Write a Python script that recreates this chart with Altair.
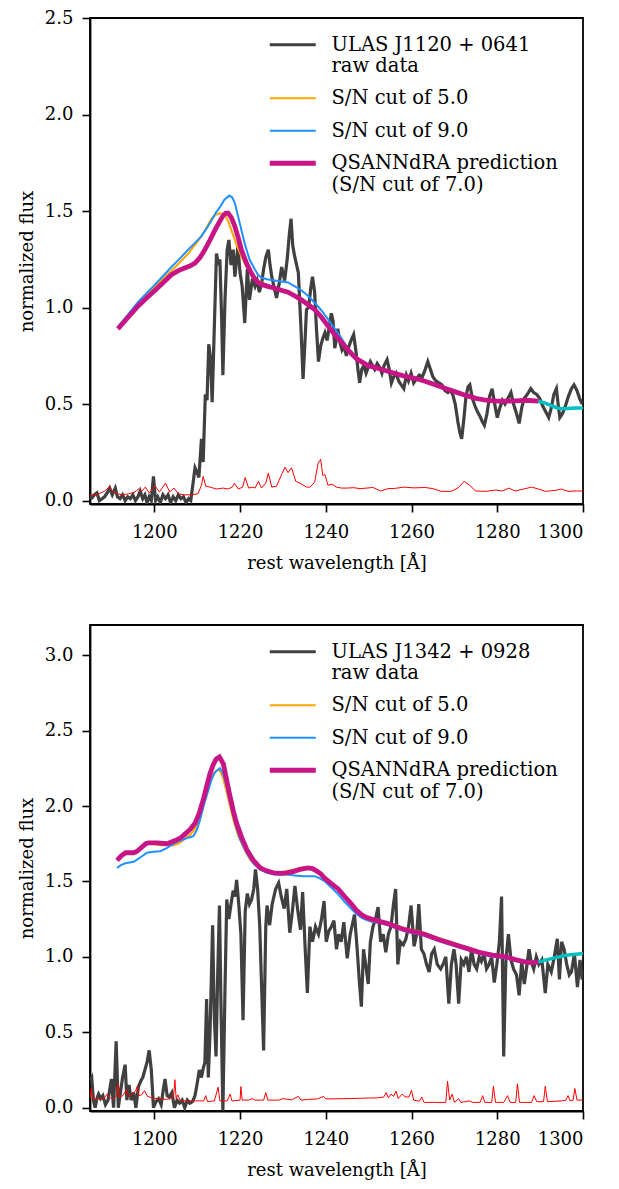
import altair as alt
import pandas as pd

# ---------------- top panel: ULAS J1120+0641 ----------------
t_raw_wl = [1185.0, 1185.5, 1186.0, 1186.6, 1187.2, 1187.8, 1188.4, 1189.0, 1189.6, 1190.2, 1190.9, 1191.4,
            1192.0, 1192.6, 1193.2, 1193.8, 1194.4, 1195.0, 1195.6, 1196.2, 1196.7, 1197.3, 1197.8, 1198.3,
            1198.8, 1199.3, 1199.8, 1200.3, 1200.8, 1201.4, 1202.0, 1202.6, 1203.2, 1203.8, 1204.4, 1205.0,
            1205.6, 1206.2, 1206.8, 1207.4, 1208.0, 1208.5, 1209.1, 1209.5, 1209.9, 1210.4, 1211.0, 1211.4,
            1211.9, 1212.3, 1212.7, 1213.1, 1213.5, 1214.0, 1214.5, 1215.0, 1215.3, 1215.7, 1216.0, 1216.5,
            1217.0, 1217.4, 1217.9, 1218.4, 1218.8, 1219.2, 1219.5, 1220.0, 1220.5, 1221.1, 1221.7, 1222.2,
            1222.9, 1223.5, 1224.0, 1224.5, 1225.0, 1225.5, 1226.0, 1226.6, 1227.0, 1227.4, 1228.0, 1228.5,
            1229.1, 1229.7, 1230.1, 1230.4, 1231.0, 1231.5, 1231.9, 1232.3, 1232.7, 1233.2, 1233.6, 1234.2,
            1234.7, 1235.1, 1235.5, 1236.0, 1236.5, 1236.9, 1237.4, 1237.8, 1238.3, 1238.8, 1239.3, 1239.8,
            1240.3, 1240.8, 1241.3, 1241.7, 1242.1, 1242.5, 1242.8, 1243.3, 1243.8, 1244.3, 1244.8, 1245.4,
            1245.9, 1246.5, 1247.0, 1247.5, 1247.9, 1248.4, 1248.9, 1249.4, 1249.9, 1250.4, 1250.9, 1251.4,
            1252.0, 1252.6, 1253.1, 1253.6, 1254.3, 1254.8, 1255.3, 1255.8, 1256.4, 1257.0, 1257.6, 1258.2,
            1258.8, 1259.3, 1259.9, 1260.5, 1261.1, 1261.8, 1262.5, 1263.2, 1263.8, 1264.4, 1265.0, 1265.7,
            1266.4, 1267.1, 1267.8, 1268.5, 1269.1, 1269.6, 1270.2, 1270.8, 1271.3, 1271.7, 1272.2, 1272.7,
            1273.2, 1273.6, 1274.2, 1274.8, 1275.4, 1275.9, 1276.5, 1277.0, 1277.6, 1278.2, 1278.8, 1279.4,
            1280.0, 1280.6, 1281.2, 1281.8, 1282.5, 1283.2, 1283.8, 1284.5, 1285.1, 1285.7, 1286.3, 1287.0,
            1287.8, 1288.5, 1289.2, 1289.9, 1290.6, 1291.3, 1292.0, 1292.6, 1293.2, 1293.8, 1294.2, 1294.6,
            1295.2, 1295.9, 1296.6, 1297.3, 1297.9, 1298.6, 1299.2, 1299.8]
t_raw_fl = [0.02, 0.015, 0.03, 0.04, 0.0, 0.01, 0.02, 0.04, 0.065, 0.03, 0.065, 0.02,
            0.01, 0.03, 0.0, 0.02, 0.01, 0.03, 0.0, 0.02, 0.05, 0.01, 0.03, -0.01,
            0.02, 0.0, 0.125, 0.0, 0.02, -0.01, 0.03, 0.01, 0.03, -0.01, 0.02, 0.0,
            0.03, 0.01, 0.02, -0.01, 0.01, 0.0, 0.1, 0.17, 0.15, 0.12, 0.32, 0.2,
            0.55, 0.52, 0.81, 0.74, 0.51, 0.9, 1.28, 1.22, 1.25, 0.95, 0.65, 1.05,
            1.3, 1.35, 1.22, 1.3, 1.16, 1.25, 1.32, 1.18, 1.11, 0.92, 1.2, 1.04,
            1.15, 1.11, 1.14, 1.08, 1.12, 1.2, 1.26, 1.30, 1.22, 1.16, 1.1, 1.05,
            1.12, 1.21, 1.17, 1.14, 1.25, 1.38, 1.46, 1.32, 1.27, 1.22, 1.18, 0.9,
            0.63, 0.8, 0.99, 1.0, 1.1, 1.16, 1.08, 0.9, 0.72, 0.8, 0.84, 0.87,
            0.83, 0.9, 0.97, 0.93, 0.79, 0.84, 0.89, 0.82, 0.78, 0.8, 0.75, 0.8,
            0.83, 0.86, 0.78, 0.68, 0.61, 0.68, 0.7, 0.66, 0.69, 0.72, 0.7, 0.68,
            0.71, 0.69, 0.66, 0.7, 0.73, 0.68, 0.61, 0.64, 0.66, 0.62, 0.6, 0.58,
            0.65, 0.62, 0.66, 0.61, 0.63, 0.65, 0.64, 0.68, 0.72, 0.68, 0.64, 0.62,
            0.61, 0.6, 0.57, 0.56, 0.57, 0.55, 0.5, 0.41, 0.35, 0.32, 0.42, 0.54,
            0.59, 0.6, 0.53, 0.49, 0.46, 0.44, 0.41, 0.39, 0.45, 0.54, 0.58, 0.5,
            0.43, 0.48, 0.52, 0.5, 0.53, 0.56, 0.5, 0.45, 0.4, 0.48, 0.53, 0.55,
            0.58, 0.56, 0.55, 0.53, 0.49, 0.46, 0.43, 0.48, 0.55, 0.58, 0.5, 0.43,
            0.45, 0.49, 0.54, 0.58, 0.60, 0.57, 0.53, 0.50]

t_sn5_wl = [1191.5, 1193.9, 1196.3, 1198.2, 1200.2, 1202.1, 1204.0, 1206.0, 1207.9, 1209.5, 1211.0, 1212.2,
            1213.3, 1214.3, 1215.3, 1216.4, 1217.2, 1218.0, 1219.1, 1220.3, 1221.5, 1222.6, 1223.4, 1224.2,
            1225.0, 1226.5, 1228.1, 1229.6, 1231.2, 1232.8, 1234.3, 1235.9, 1237.4, 1239.0, 1240.5, 1242.1,
            1243.7, 1244.8, 1246.0, 1247.2, 1248.3, 1249.8, 1251.4, 1253.7, 1256.0, 1258.3, 1260.7, 1263.0,
            1265.5, 1268.1, 1270.4, 1272.7, 1275.0, 1277.4, 1279.7, 1282.0, 1284.4, 1286.7, 1289.6]
t_sn5_fl = [0.895, 0.96, 1.03, 1.07, 1.11, 1.15, 1.19, 1.235, 1.28, 1.325, 1.37, 1.415,
            1.46, 1.48, 1.49, 1.48, 1.45, 1.40, 1.33, 1.265, 1.21, 1.18, 1.155, 1.14,
            1.13, 1.115, 1.10, 1.09, 1.08, 1.062, 1.042, 1.017, 0.992, 0.952, 0.907, 0.862,
            0.822, 0.792, 0.762, 0.737, 0.722, 0.702, 0.692, 0.677, 0.662, 0.647, 0.636, 0.622,
            0.602, 0.582, 0.564, 0.547, 0.532, 0.522, 0.517, 0.517, 0.519, 0.521, 0.516]

t_sn9_wl = [1191.5, 1193.9, 1196.3, 1198.2, 1200.2, 1202.1, 1204.0, 1206.0, 1207.9, 1209.5, 1211.0, 1212.2,
            1213.3, 1214.3, 1215.3, 1216.4, 1217.5, 1218.2, 1218.8, 1219.9, 1221.1, 1222.2, 1223.4, 1224.2,
            1225.0, 1226.5, 1228.1, 1229.6, 1231.2, 1232.8, 1234.3, 1235.9, 1237.4, 1239.0, 1240.5, 1242.1,
            1243.7, 1244.8, 1246.0, 1247.2, 1248.3, 1249.8, 1251.4, 1253.7, 1256.0, 1258.3, 1260.7, 1263.0,
            1265.5, 1268.1, 1270.4, 1272.7, 1275.0, 1277.4, 1279.7, 1282.0, 1284.4, 1286.7, 1289.6]
t_sn9_fl = [0.90, 0.965, 1.03, 1.075, 1.12, 1.165, 1.21, 1.255, 1.30, 1.335, 1.37, 1.41,
            1.45, 1.49, 1.52, 1.56, 1.58, 1.57, 1.54, 1.44, 1.33, 1.25, 1.20, 1.17,
            1.155, 1.145, 1.14, 1.135, 1.13, 1.11, 1.09, 1.06, 1.025, 0.985, 0.94, 0.89,
            0.84, 0.80, 0.77, 0.74, 0.72, 0.701, 0.691, 0.676, 0.661, 0.646, 0.635, 0.621,
            0.601, 0.581, 0.563, 0.546, 0.531, 0.521, 0.516, 0.516, 0.518, 0.52, 0.515]

t_qs_wl = [1191.5, 1193.9, 1196.3, 1198.2, 1200.2, 1202.1, 1204.0, 1205.5, 1207.1, 1208.3, 1209.5, 1210.7,
           1211.8, 1213.0, 1214.1, 1215.1, 1216.0, 1216.6, 1217.2, 1218.0, 1218.8, 1219.6, 1220.3, 1221.5,
           1222.6, 1223.4, 1224.2, 1225.0, 1226.5, 1228.1, 1229.6, 1231.2, 1232.8, 1234.3, 1235.9, 1237.4,
           1239.0, 1240.5, 1242.1, 1243.7, 1244.8, 1246.0, 1247.2, 1248.3, 1249.8, 1251.4, 1253.7, 1256.0,
           1258.3, 1260.7, 1263.0, 1265.5, 1268.1, 1270.4, 1272.7, 1275.0, 1277.4, 1279.7, 1282.0, 1284.4,
           1286.7, 1289.6]
t_qs_fl = [0.89, 0.95, 1.01, 1.05, 1.09, 1.13, 1.17, 1.19, 1.205, 1.215, 1.23, 1.26,
           1.30, 1.35, 1.40, 1.44, 1.475, 1.488, 1.49, 1.465, 1.42, 1.36, 1.30, 1.23,
           1.18, 1.15, 1.13, 1.12, 1.11, 1.10, 1.09, 1.08, 1.06, 1.04, 1.015, 0.99,
           0.95, 0.905, 0.86, 0.82, 0.79, 0.76, 0.735, 0.72, 0.70, 0.69, 0.675, 0.66,
           0.645, 0.634, 0.62, 0.60, 0.58, 0.562, 0.545, 0.53, 0.52, 0.515, 0.515, 0.517,
           0.52, 0.515]

t_red_wl = [1289.6, 1291.2, 1292.9, 1294.0, 1295.2, 1296.5, 1298.0, 1300.0]
t_red_fl = [0.515, 0.505, 0.49, 0.48, 0.476, 0.477, 0.48, 0.48]

t_err_wl = [1185.0, 1186.0, 1187.0, 1188.3, 1189.0, 1189.5, 1190.2, 1190.9, 1192.4, 1194.0, 1195.5, 1196.3,
            1197.0, 1197.9, 1198.8, 1200.2, 1201.2, 1202.6, 1203.6, 1204.6, 1205.6, 1207.0, 1208.1, 1210.2,
            1211.0, 1211.4, 1212.0, 1213.0, 1214.5, 1216.0, 1217.2, 1218.2, 1218.7, 1219.6, 1220.6, 1221.2,
            1222.0, 1223.0, 1223.5, 1224.3, 1225.0, 1226.0, 1226.6, 1227.4, 1228.5, 1229.8, 1230.5, 1231.2,
            1232.0, 1233.0, 1234.0, 1235.5, 1236.3, 1237.4, 1238.2, 1238.8, 1239.3, 1239.8, 1240.5, 1241.5,
            1242.5, 1243.6, 1245.0, 1246.5, 1248.0, 1249.5, 1251.0, 1252.8, 1254.5, 1256.0, 1258.3, 1260.5,
            1263.2, 1265.0, 1266.9, 1269.2, 1270.8, 1272.3, 1273.5, 1275.0, 1277.4, 1279.7, 1281.2, 1282.7,
            1284.2, 1286.1, 1288.0, 1289.6, 1291.2, 1293.5, 1295.0, 1296.5, 1298.5, 1300.0]
t_err_fl = [0.03, 0.03, 0.035, 0.048, 0.06, 0.073, 0.05, 0.04, 0.03, 0.035, 0.045, 0.06,
            0.045, 0.07, 0.04, 0.075, 0.045, 0.09, 0.045, 0.065, 0.035, 0.03, 0.03, 0.035,
            0.08, 0.125, 0.075, 0.07, 0.06, 0.065, 0.06, 0.07, 0.09, 0.06, 0.07, 0.12,
            0.065, 0.07, 0.065, 0.10, 0.065, 0.09, 0.142, 0.07, 0.075, 0.14, 0.173, 0.145,
            0.17, 0.1, 0.09, 0.07, 0.07, 0.095, 0.193, 0.214, 0.13, 0.135, 0.08, 0.085,
            0.07, 0.065, 0.065, 0.067, 0.062, 0.065, 0.068, 0.05, 0.062, 0.063, 0.07, 0.066,
            0.068, 0.062, 0.048, 0.048, 0.065, 0.10, 0.08, 0.05, 0.048, 0.055, 0.05, 0.065,
            0.05, 0.06, 0.07, 0.06, 0.048, 0.053, 0.06, 0.048, 0.05, 0.05]

# ---------------- bottom panel: ULAS J1342+0928 ----------------
b_raw_wl = [1185.0, 1185.4, 1185.8, 1186.2, 1186.6, 1187.0, 1187.5, 1188.0, 1188.6, 1189.2, 1189.6, 1190.0,
            1190.5, 1191.1, 1191.6, 1192.1, 1192.6, 1193.2, 1193.6, 1194.1, 1194.6, 1195.2, 1195.7, 1196.3,
            1196.9, 1197.3, 1197.8, 1198.3, 1198.8, 1199.3, 1199.8, 1200.4, 1201.0, 1201.6, 1202.1, 1202.5,
            1203.0, 1203.5, 1204.1, 1204.7, 1205.3, 1205.9, 1206.5, 1207.1, 1207.7, 1208.3, 1208.9, 1209.5,
            1210.0, 1210.5, 1211.0, 1211.4, 1211.8, 1212.2, 1212.6, 1213.0, 1213.6, 1214.0, 1214.4, 1214.8,
            1215.2, 1215.6, 1216.0, 1216.5, 1216.9, 1217.4, 1217.9, 1218.4, 1218.8, 1219.2, 1219.7, 1220.2,
            1220.7, 1221.2, 1221.7, 1222.2, 1222.7, 1223.2, 1223.6, 1224.1, 1224.6, 1225.0, 1225.5, 1226.0,
            1226.3, 1226.9, 1227.5, 1228.3, 1229.0, 1229.6, 1230.3, 1230.9, 1231.6, 1232.2, 1232.8, 1233.5,
            1234.1, 1234.6, 1235.2, 1235.7, 1236.3, 1236.9, 1237.6, 1238.3, 1239.0, 1239.6, 1240.1, 1240.7,
            1241.3, 1241.9, 1242.5, 1243.0, 1243.6, 1244.2, 1245.0, 1245.7, 1246.7, 1247.3, 1247.8, 1248.3,
            1248.8, 1249.3, 1249.9, 1250.4, 1251.0, 1251.6, 1252.2, 1252.8, 1253.4, 1254.0, 1254.6, 1255.2,
            1255.8, 1256.3, 1256.8, 1257.4, 1258.1, 1258.7, 1259.3, 1259.9, 1260.6, 1261.2, 1261.7, 1262.3,
            1262.9, 1263.5, 1264.1, 1264.7, 1265.3, 1266.0, 1266.8, 1267.5, 1268.0, 1268.7, 1269.3, 1269.9,
            1270.4, 1271.0, 1271.6, 1272.2, 1272.8, 1273.4, 1274.0, 1274.6, 1275.2, 1275.8, 1276.3, 1276.9,
            1277.5, 1278.1, 1278.7, 1279.3, 1279.9, 1280.5, 1281.0, 1281.5, 1282.0, 1282.6, 1283.2, 1283.8,
            1284.5, 1285.1, 1285.7, 1286.3, 1286.8, 1287.4, 1287.9, 1288.5, 1289.1, 1289.7, 1290.4, 1291.2,
            1291.8, 1292.6, 1293.3, 1294.0, 1294.5, 1295.0, 1295.6, 1296.2, 1296.8, 1297.3, 1298.0, 1298.7,
            1299.3, 1299.8]
b_raw_fl = [0.18, 0.2, 0.05, 0.0, 0.06, 0.09, 0.06, 0.08, 0.02, 0.05, 0.12, 0.19,
            0.0, 0.44, 0.0, 0.1, 0.2, 0.285, 0.05, 0.15, 0.05, 0.1, 0.0, 0.14,
            0.18, 0.2, 0.25, 0.3, 0.38, 0.25, 0.0, 0.04, 0.06, 0.02, 0.12, 0.19,
            0.08, 0.07, 0.1, 0.0, 0.05, 0.03, 0.05, 0.0, 0.05, 0.03, 0.04, 0.08,
            0.16, 0.25, 0.2, 0.26, 0.3, 0.72, 0.2, 0.5, 1.21, 0.6, 0.34, 0.9,
            1.34, 0.6, -0.02, 0.8, 1.38, 1.25, 1.35, 1.44, 1.40, 1.51, 1.35, 1.15,
            0.58, 1.3, 1.42, 1.35, 1.38, 1.45, 1.58, 1.45, 1.2, 0.83, 0.38, 1.2,
            1.34, 1.21, 1.35, 1.45, 1.49, 1.40, 1.32, 1.45, 1.16, 1.3, 1.47, 1.3,
            1.18, 1.43, 1.05, 0.76, 1.2, 1.1, 1.2, 1.15, 1.25, 1.37, 1.1, 1.17,
            1.2, 1.24, 1.05, 1.15, 1.10, 1.23, 0.99, 1.15, 1.28, 1.06, 0.85, 0.67,
            1.05, 0.95, 0.82, 1.1, 1.2, 1.25, 1.33, 1.1, 1.15, 1.03, 1.15, 1.2,
            1.35, 1.45, 0.95, 1.1, 1.08, 1.12, 1.2, 1.34, 1.07, 1.15, 1.35, 1.05,
            1.02, 0.95, 0.90, 1.02, 1.05, 0.95, 0.92, 0.96, 1.0, 0.69, 0.95, 1.05,
            0.95, 0.69, 0.98, 0.95, 1.0, 0.9, 1.05, 0.95, 0.92, 1.0, 0.97, 1.02,
            0.92, 0.95, 1.0, 0.83, 0.95, 1.1, 1.40, 0.34, 0.97, 1.15, 0.98, 0.92,
            0.88, 0.745, 0.97, 0.82, 0.92, 1.05, 0.97, 0.92, 1.0, 0.95, 0.98, 0.76,
            0.95, 0.9, 1.0, 1.12, 0.85, 1.1, 1.05, 0.95, 0.88, 0.9, 1.02, 0.8,
            0.98, 0.85]

b_sn5_wl = [1191.3, 1192.3, 1193.3, 1194.2, 1195.2, 1196.0, 1197.0, 1198.0, 1199.2, 1200.5, 1201.4, 1203.0,
            1204.5, 1205.5, 1206.4, 1207.4, 1208.4, 1209.3, 1210.2, 1211.0, 1211.9, 1212.8, 1213.8, 1214.5,
            1215.0, 1215.5, 1216.0, 1216.8, 1217.7, 1218.6, 1219.6, 1220.9, 1222.3, 1223.8, 1225.4, 1227.0,
            1228.6, 1230.2, 1231.8, 1233.4, 1235.0, 1236.5, 1237.8, 1238.8, 1239.8, 1241.3, 1242.9, 1244.4,
            1246.0, 1247.1, 1248.3, 1249.4, 1250.6, 1252.5, 1254.5, 1256.4, 1258.4, 1260.7, 1263.0, 1266.3,
            1269.6, 1272.7, 1275.8, 1278.9, 1282.0, 1284.4, 1286.7, 1288.2, 1289.6]
b_sn5_fl = [1.645, 1.675, 1.69, 1.69, 1.69, 1.705, 1.73, 1.75, 1.75, 1.745, 1.74, 1.74,
            1.74, 1.75, 1.765, 1.79, 1.81, 1.84, 1.90, 1.97, 2.05, 2.14, 2.215, 2.235,
            2.24, 2.225, 2.19, 2.10, 1.995, 1.89, 1.80, 1.72, 1.645, 1.60, 1.57, 1.56,
            1.56, 1.565, 1.575, 1.585, 1.595, 1.595, 1.58, 1.56, 1.53, 1.49, 1.455, 1.405,
            1.355, 1.315, 1.285, 1.268, 1.256, 1.242, 1.228, 1.21, 1.19, 1.175, 1.16, 1.125,
            1.095, 1.066, 1.038, 1.018, 1.003, 0.983, 0.967, 0.963, 0.965]

b_sn9_wl = [1191.3, 1192.3, 1193.3, 1194.2, 1195.2, 1196.8, 1198.3, 1199.8, 1201.4, 1202.9, 1204.5, 1206.0,
            1207.6, 1209.1, 1209.9, 1210.7, 1211.6, 1212.6, 1213.4, 1214.2, 1215.3, 1215.9, 1216.5, 1217.3,
            1218.1, 1219.0, 1220.0, 1221.5, 1223.1, 1224.6, 1226.2, 1228.1, 1230.9, 1232.8, 1234.7, 1237.4,
            1238.6, 1239.8, 1241.3, 1242.9, 1244.4, 1246.0, 1247.1, 1248.3, 1249.4, 1250.6, 1252.5, 1254.5,
            1256.4, 1258.4, 1260.7, 1263.0, 1266.3, 1269.6, 1272.7, 1275.8, 1278.9, 1282.0, 1284.4, 1286.7,
            1288.2, 1289.6]
b_sn9_fl = [1.59, 1.61, 1.62, 1.625, 1.63, 1.66, 1.69, 1.697, 1.70, 1.72, 1.75, 1.77,
            1.787, 1.80, 1.84, 1.91, 2.01, 2.105, 2.18, 2.225, 2.25, 2.225, 2.17, 2.07,
            1.97, 1.87, 1.78, 1.69, 1.62, 1.58, 1.557, 1.546, 1.546, 1.54, 1.535, 1.535,
            1.52, 1.50, 1.46, 1.415, 1.365, 1.316, 1.285, 1.26, 1.245, 1.234, 1.225, 1.21,
            1.19, 1.17, 1.155, 1.14, 1.105, 1.075, 1.048, 1.02, 1.0, 0.99, 0.972, 0.96,
            0.958, 0.962]

b_qs_wl = [1191.3, 1192.3, 1193.3, 1194.2, 1195.2, 1196.0, 1197.0, 1198.0, 1198.7, 1200.6, 1203.0, 1205.3,
           1206.4, 1207.4, 1208.5, 1209.5, 1210.5, 1211.5, 1212.2, 1213.0, 1213.7, 1214.4, 1215.2, 1216.1,
           1216.9, 1217.7, 1218.5, 1219.2, 1220.4, 1221.6, 1223.1, 1224.7, 1226.2, 1227.8, 1229.4, 1230.9,
           1232.5, 1234.0, 1235.9, 1236.9, 1237.8, 1238.8, 1239.8, 1241.3, 1242.9, 1244.4, 1246.0, 1247.1,
           1248.3, 1249.4, 1250.6, 1252.5, 1254.5, 1256.4, 1258.4, 1260.7, 1263.0, 1266.3, 1269.6, 1272.7,
           1275.8, 1278.9, 1282.0, 1284.4, 1286.7, 1288.2, 1289.6]
b_qs_fl = [1.64, 1.67, 1.69, 1.69, 1.69, 1.70, 1.725, 1.75, 1.755, 1.755, 1.75, 1.776,
           1.795, 1.82, 1.85, 1.885, 1.955, 2.05, 2.13, 2.215, 2.27, 2.31, 2.325, 2.28,
           2.17, 2.06, 1.96, 1.885, 1.79, 1.71, 1.64, 1.59, 1.57, 1.557, 1.553, 1.557,
           1.567, 1.58, 1.59, 1.585, 1.57, 1.55, 1.52, 1.485, 1.45, 1.40, 1.35, 1.31,
           1.28, 1.262, 1.25, 1.235, 1.22, 1.20, 1.18, 1.165, 1.15, 1.115, 1.085, 1.058,
           1.03, 1.012, 1.0, 0.98, 0.965, 0.962, 0.965]

b_red_wl = [1289.6, 1291.2, 1292.9, 1294.5, 1296.0, 1297.8, 1300.0]
b_red_fl = [0.965, 0.978, 0.99, 1.0, 1.01, 1.016, 1.022]

b_err_wl = [1185.0, 1185.3, 1185.6, 1185.8, 1187.0, 1188.2, 1189.0, 1189.6, 1190.5, 1191.2, 1191.5, 1191.8,
            1192.7, 1193.5, 1193.9, 1194.8, 1195.6, 1196.0, 1196.4, 1197.0, 1197.7, 1198.4, 1199.5, 1201.0,
            1202.8, 1203.8, 1204.5, 1204.8, 1205.1, 1205.5, 1206.0, 1207.5, 1209.5, 1211.5, 1212.0, 1212.4,
            1214.0, 1214.9, 1215.3, 1217.0, 1217.7, 1218.1, 1220.0, 1220.2, 1220.5, 1222.0, 1223.0, 1223.4,
            1225.5, 1226.0, 1226.5, 1229.0, 1230.0, 1232.0, 1233.6, 1234.2, 1236.0, 1238.0, 1239.5, 1240.0,
            1245.0, 1250.0, 1252.0, 1253.5, 1254.1, 1254.6, 1255.2, 1255.8, 1256.4, 1256.9, 1257.8, 1258.5,
            1259.4, 1260.0, 1260.5, 1261.8, 1262.4, 1262.9, 1266.0, 1268.0, 1268.4, 1268.9, 1269.5, 1270.0,
            1271.0, 1271.5, 1273.5, 1274.3, 1276.0, 1276.6, 1277.1, 1278.7, 1279.1, 1279.6, 1281.5, 1282.4,
            1283.0, 1284.3, 1284.7, 1285.2, 1288.0, 1288.6, 1289.2, 1290.8, 1291.2, 1291.7, 1295.0, 1296.0,
            1296.5, 1297.0, 1297.7, 1298.1, 1298.6, 1300.0]
b_err_fl = [0.06, 0.13, 0.07, 0.055, 0.055, 0.06, 0.09, 0.065, 0.06, 0.08, 0.153, 0.07,
            0.08, 0.12, 0.075, 0.09, 0.11, 0.14, 0.08, 0.085, 0.113, 0.075, 0.065, 0.058,
            0.055, 0.06, 0.07, 0.186, 0.06, 0.085, 0.05, 0.045, 0.045, 0.045, 0.08, 0.04,
            0.045, 0.136, 0.045, 0.045, 0.09, 0.045, 0.05, 0.14, 0.05, 0.05, 0.06, 0.05,
            0.05, 0.1, 0.05, 0.05, 0.06, 0.052, 0.075, 0.05, 0.055, 0.058, 0.075, 0.058,
            0.06, 0.064, 0.065, 0.07, 0.1, 0.065, 0.09, 0.075, 0.11, 0.06, 0.09, 0.072,
            0.07, 0.115, 0.05, 0.043, 0.07, 0.035, 0.035, 0.035, 0.175, 0.05, 0.09, 0.035,
            0.06, 0.035, 0.045, 0.035, 0.035, 0.08, 0.035, 0.035, 0.142, 0.035, 0.035, 0.08,
            0.035, 0.035, 0.158, 0.035, 0.035, 0.08, 0.04, 0.04, 0.142, 0.04, 0.045, 0.05,
            0.08, 0.045, 0.05, 0.127, 0.05, 0.05]

series_keys = ["raw", "sn5", "sn9", "qs"]
series_colors = ["#404040", "#FFA500", "#1E90FF", "#C71585"]
series_widths = [3.2, 2.0, 2.0, 4.8]
x_ticks = [1200, 1220, 1240, 1260, 1280, 1300]
FONT = "DejaVu Serif"
TICK_FS = 18


def df(wl, fl, key):
    return pd.DataFrame({"wl": wl, "flux": fl, "series": key})


def panel(raw, sn5, sn9, qs, red, err, ymin, ymax, yticks, obj_name):
    xenc = alt.X("wl:Q", scale=alt.Scale(domain=[1185, 1300], nice=False, zero=False),
                 axis=alt.Axis(values=x_ticks, title="rest wavelength [Å]", format="d",
                               labelFont=FONT, labelFontSize=TICK_FS, labelColor="black", labelPadding=11,
                               titleFont=FONT, titleFontSize=18, titleColor="black", titleFontWeight="normal",
                               titlePadding=13, domainColor="black", domainWidth=1.8, tickColor="black",
                               tickWidth=1.6, tickSize=8, grid=False))
    yenc = alt.Y("flux:Q", scale=alt.Scale(domain=[ymin, ymax], nice=False, zero=False),
                 axis=alt.Axis(values=yticks, title="normalized flux", format=".1f",
                               labelFont=FONT, labelFontSize=TICK_FS, labelColor="black", labelPadding=9,
                               titleFont=FONT, titleFontSize=18, titleColor="black", titleFontWeight="normal",
                               titlePadding=8, domainColor="black", domainWidth=1.8, tickColor="black",
                               tickWidth=1.6, tickSize=8, grid=False))
    label_expr = (
        f"datum.label == 'raw' ? ['{obj_name}', 'raw data'] : "
        "datum.label == 'sn5' ? 'S/N cut of 5.0' : "
        "datum.label == 'sn9' ? 'S/N cut of 9.0' : "
        "['QSANNdRA prediction', '(S/N cut of 7.0)']"
    )
    color = alt.Color("series:N", scale=alt.Scale(domain=series_keys, range=series_colors),
                      legend=alt.Legend(title=None, orient="none", legendX=193, legendY=17,
                                        symbolType="M-4.6,0H4.6", symbolSize=100, labelExpr=label_expr,
                                        labelFont=FONT, labelFontSize=19.5, labelColor="black",
                                        labelLimit=500, labelOffset=29, rowPadding=11.5, padding=0))
    sw = alt.StrokeWidth("series:N", scale=alt.Scale(type="ordinal", domain=series_keys, range=series_widths))

    def line(d):
        return alt.Chart(d).mark_line(clip=True).encode(x=xenc, y=yenc, color=color, strokeWidth=sw)

    l_raw = line(raw)
    l_err = alt.Chart(err).mark_line(clip=True, color="#FF0000", strokeWidth=1).encode(x=xenc, y=yenc)
    l_sn5 = line(sn5)
    l_sn9 = line(sn9)
    l_qs = line(qs)
    l_red = alt.Chart(red).mark_line(clip=True, color="#00BFBF", strokeWidth=3.5).encode(x=xenc, y=yenc)
    return alt.layer(l_raw, l_err, l_sn5, l_sn9, l_qs, l_red).properties(width=493, height=486)


top = panel(df(t_raw_wl, t_raw_fl, "raw"), df(t_sn5_wl, t_sn5_fl, "sn5"), df(t_sn9_wl, t_sn9_fl, "sn9"),
            df(t_qs_wl, t_qs_fl, "qs"), df(t_red_wl, t_red_fl, "red"), df(t_err_wl, t_err_fl, "err"),
            -0.0175, 2.5, [0.0, 0.5, 1.0, 1.5, 2.0, 2.5], "ULAS J1120 + 0641")
bottom = panel(df(b_raw_wl, b_raw_fl, "raw"), df(b_sn5_wl, b_sn5_fl, "sn5"), df(b_sn9_wl, b_sn9_fl, "sn9"),
               df(b_qs_wl, b_qs_fl, "qs"), df(b_red_wl, b_red_fl, "red"), df(b_err_wl, b_err_fl, "err"),
               -0.022, 3.2, [0.0, 0.5, 1.0, 1.5, 2.0, 2.5, 3.0], "ULAS J1342 + 0928")

chart = (
    alt.vconcat(top, bottom, spacing=51)
    .resolve_scale(color="independent", strokeWidth="independent")
    .resolve_legend(color="independent", strokeWidth="independent")
    .properties(padding={"left": 9, "top": 0, "right": 5, "bottom": 0})
    .configure_view(stroke="black", strokeWidth=1.8)
    .configure_axis(labelFont=FONT, labelFontSize=TICK_FS)
    .configure_text(font=FONT)
)

chart.save("out.html", embed_options={"renderer": "svg", "actions": False})
